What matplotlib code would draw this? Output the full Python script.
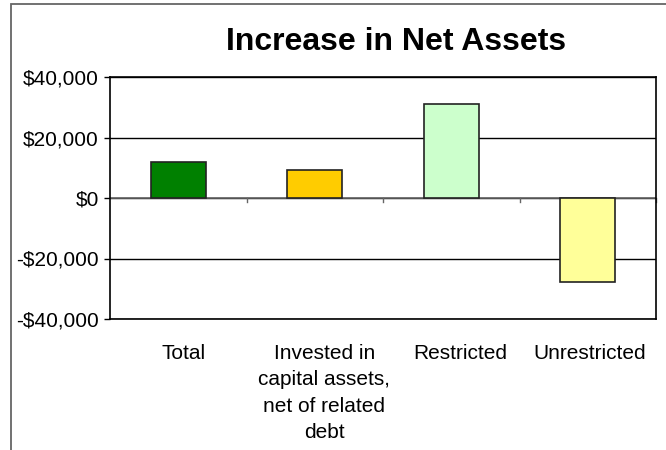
import matplotlib.pyplot as plt
from matplotlib.patches import Rectangle
from matplotlib.ticker import FuncFormatter

plt.rcParams['font.family'] = ['Liberation Sans', 'DejaVu Sans']

# net asset changes by category
categories = ["Total", "Invested in\ncapital assets,\nnet of related\ndebt", "Restricted", "Unrestricted"]
values = [11800, 9200, 31200, -27700]
colors = ["#008000", "#FFCC00", "#CCFFCC", "#FFFF99"]
yticks = [-40000, -20000, 0, 20000, 40000]
# small sideways nudge of the category labels
label_shift = [0.04, 0.07, 0.065, 0.015]

W, H = 666, 450
fig = plt.figure(figsize=(W / 100, H / 100), dpi=100)
ax = fig.add_axes([110 / W, (H - 319) / H, 546 / W, 242 / H])

# outer chart frame, partly cut off at right and bottom
fig.patches.append(Rectangle((11 / W, -0.1), 1.2, (H - 4.5) / H + 0.1, transform=fig.transFigure,
                             fill=False, edgecolor="#666666", linewidth=1.3))

x = range(len(categories))
ax.bar(x, values, width=0.4, color=colors, edgecolor="#222222", linewidth=1.2, zorder=3)

ax.set_xlim(-0.5, len(categories) - 0.5)
ax.set_ylim(-40000, 40000)
ax.set_yticks(yticks)
ax.yaxis.set_major_formatter(FuncFormatter(lambda v, p: f"${v:,.0f}" if v >= 0 else f"-${-v:,.0f}"))
ax.tick_params(axis="y", length=4, width=1, pad=4, labelsize=15, direction="out")
ax.grid(axis="y", color="black", linewidth=1, zorder=1)

# category axis along zero with boundary ticks
ax.axhline(0, color="#666666", linewidth=1.2, zorder=2)
ax.set_xticks([])
for b in [0.5, 1.5, 2.5, 3.5]:
    ax.plot([b, b], [0, -1300], color="#666666", linewidth=1, zorder=2, clip_on=False)
for i, lab in enumerate(categories):
    ax.text(i + label_shift[i], -48200, lab, ha="center", va="top", fontsize=15, linespacing=1.5)

for s in ax.spines.values():
    s.set_color("black")
    s.set_linewidth(1.2)

fig.text(396 / W, 1 - 41.5 / H, "Increase in Net Assets", ha="center", va="center",
         fontsize=23, fontweight="bold")

fig.savefig("out.png", dpi=100)
